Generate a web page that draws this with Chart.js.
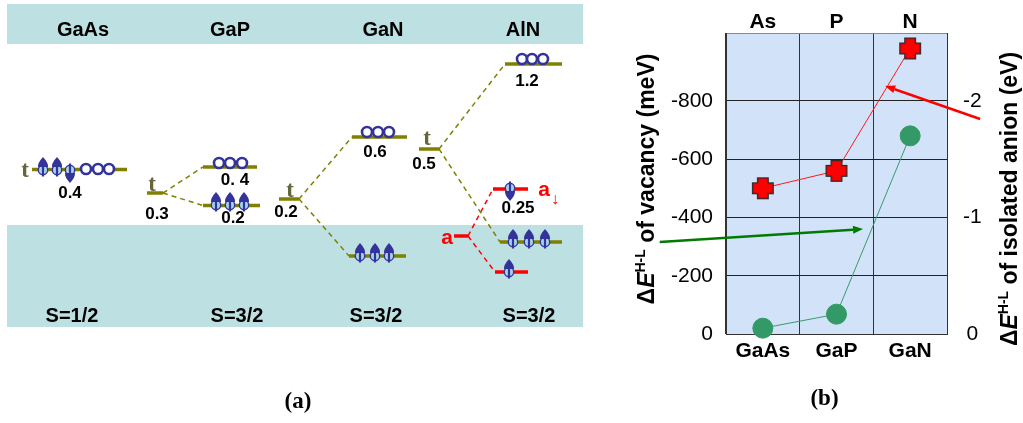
<!DOCTYPE html>
<html lang="en">
<head>
<meta charset="UTF-8">
<title>Vacancy levels</title>
<script src="https://cdn.jsdelivr.net/npm/chart.js"></script>
<style>
  body { margin: 0; background: #fff; }
  .panel { position: absolute; top: 0; height: 423px; }
  #panelA { left: 0; width: 620px; }
  #panelB { left: 620px; width: 403px; }
</style>
</head>
<body>
<div id="panelA" class="panel"><canvas id="chartA"></canvas></div>
<div id="panelB" class="panel"><canvas id="chartB"></canvas></div>

<script>
// ---------- panel (a): level scheme, diagram units (y grows downwards) ----------
const compounds = ['GaAs', 'GaP', 'GaN', 'AlN'];
const compoundX = [83, 230, 383, 523];
const spinTotal = ['S=1/2', 'S=3/2', 'S=3/2', 'S=3/2'];
const spinTotalX = [72, 237, 376, 529];
const bands = [[4, 44], [225, 327]];
const bandSpan = [7, 583];
// t levels: [from, to, height]
const tLevels = [[32, 127, 169.5], [147, 163, 193], [203, 257, 167], [203, 260, 205.5], [279, 299, 199],
                 [352, 407, 137], [349, 406, 256], [419, 439, 149], [505, 562, 64], [500, 562, 242]];
const aLevels = [[454, 468, 236], [493, 528, 189], [495, 528, 272]];
// dashed links: [x1, y1, x2, y2]
const tLinks = [[163, 193, 203, 167], [163, 193, 203, 205.5], [299, 199, 352, 137],
                [299, 199, 349, 256], [439, 149, 505, 64], [439, 149, 500, 242]];
const aLinks = [[468, 236, 493, 189], [468, 236, 495, 272]];
const spinUp = [[43, 170], [57, 170], [216, 205], [230, 205], [244, 205], [360, 256], [375, 256],
                [389, 256], [513, 242], [529, 242], [545, 242], [509, 272]];
const spinDown = [[70, 170], [510, 188]];
const holes = [[86, 169], [98, 169], [109, 169], [219, 163], [230, 163], [242, 163],
               [367, 132], [378, 132], [389, 132], [522, 59], [532, 59], [543, 59]];
const splitLabels = ['0.4', '0.3', '0. 4', '0.2', '0.2', '0.6', '0.5', '1.2', '0.25'];
const splitLabelAt = [[70, 193], [157, 214], [235, 180], [233, 218], [286, 212], [375, 152], [424, 164], [527, 81], [518, 208]];
const tMarks = [[25, 171], [152, 185], [290, 191], [427, 139]];

// ---------- panel (b) ----------
const crystals = ['GaAs', 'GaP', 'GaN'];
const anions = ['As', 'P', 'N'];
const vacancySplit = [-500, -560, -980];   // meV, left axis
const anionSplit = [-0.05, -0.17, -1.70];  // eV, right axis
const meVTicks = [0, -200, -400, -600, -800];
const eVTicks = [0, -1, -2];
// arrows: [category index, meV] start and end
const arrowRed = [[2.95, -738], [1.66, -851]];
const arrowGreen = [[-1.4, -316], [1.36, -360]];

const SANS = "'Liberation Sans', Arial, Helvetica, sans-serif";
const SERIF = "'Liberation Serif', 'Times New Roman', serif";
const OLIVE = '#808000';
const SPIN_BLUE = '#333399';
Chart.defaults.font.family = SANS;

function spinImage(up) {
    const c = document.createElement('canvas');
    c.width = 14; c.height = 32;
    const g = c.getContext('2d');
    const cx = 7, cy = 16, s = up ? -1 : 1;
    g.fillStyle = '#a3d2ea'; g.strokeStyle = SPIN_BLUE; g.lineWidth = 1.4;
    g.beginPath(); g.arc(cx, cy, 4.7, 0, Math.PI * 2); g.fill(); g.stroke();
    g.lineWidth = 2.2;
    g.beginPath(); g.moveTo(cx, cy - 6.5 * s); g.lineTo(cx, cy + 4 * s); g.stroke();
    g.fillStyle = SPIN_BLUE;
    g.beginPath();
    g.moveTo(cx, cy + 13 * s);
    g.quadraticCurveTo(cx + 5.5, cy + 7 * s, cx + 5, cy + 3 * s);
    g.lineTo(cx - 5, cy + 3 * s);
    g.quadraticCurveTo(cx - 5.5, cy + 7 * s, cx, cy + 13 * s);
    g.closePath(); g.fill();
    return c;
}
function holeImage() {
    const c = document.createElement('canvas');
    c.width = 16; c.height = 16;
    const g = c.getContext('2d');
    g.fillStyle = '#fff'; g.strokeStyle = SPIN_BLUE; g.lineWidth = 2.6;
    g.beginPath(); g.arc(8, 8, 5.0, 0, Math.PI * 2); g.fill(); g.stroke();
    return c;
}
function plusImage() {
    const c = document.createElement('canvas');
    c.width = 24; c.height = 24;
    const g = c.getContext('2d');
    const a = 5.3, L = 10.3, o = 12;
    g.beginPath();
    g.moveTo(o - a, o - L); g.lineTo(o + a, o - L); g.lineTo(o + a, o - a); g.lineTo(o + L, o - a);
    g.lineTo(o + L, o + a); g.lineTo(o + a, o + a); g.lineTo(o + a, o + L); g.lineTo(o - a, o + L);
    g.lineTo(o - a, o + a); g.lineTo(o - L, o + a); g.lineTo(o - L, o - a); g.lineTo(o - a, o - a);
    g.closePath();
    g.fillStyle = '#ff0000'; g.fill();
    g.strokeStyle = '#2a2a2a'; g.lineWidth = 1.3; g.stroke();
    return c;
}

const pts = list => list.map(p => ({x: p[0], y: p[1]}));
const segment = (p, color, width, dash) => ({
    data: [{x: p[0], y: p[1]}, {x: p[2], y: p[3]}],
    showLine: true, borderColor: color, borderWidth: width, borderDash: dash || [],
    pointRadius: 0, clip: false
});
const markers = (list, img) => ({
    data: pts(list), pointStyle: img, pointRadius: 6, showLine: false, clip: false
});

function label(ctx, text, x, y, font, color) {
    ctx.font = font;
    ctx.fillStyle = color || '#000';
    ctx.textAlign = 'center';
    ctx.textBaseline = 'middle';
    ctx.fillText(text, x, y);
}

const diagramDecor = {
    id: 'diagramDecor',
    beforeDatasetsDraw(chart) {
        const {ctx, scales: {x, y}} = chart;
        ctx.save();
        ctx.fillStyle = '#bde0e3';
        const x0 = x.getPixelForValue(bandSpan[0]), x1 = x.getPixelForValue(bandSpan[1]);
        bands.forEach(b => {
            const y0 = y.getPixelForValue(b[0]), y1 = y.getPixelForValue(b[1]);
            ctx.fillRect(x0, y0, x1 - x0, y1 - y0);
        });
        ctx.restore();
    },
    afterDatasetsDraw(chart) {
        const {ctx, scales: {x, y}} = chart;
        ctx.save();
        compounds.forEach((c, i) => label(ctx, c, x.getPixelForValue(compoundX[i]), y.getPixelForValue(30), 'bold 20px ' + SANS));
        spinTotal.forEach((s, i) => label(ctx, s, x.getPixelForValue(spinTotalX[i]), y.getPixelForValue(316), 'bold 20px ' + SANS));
        splitLabels.forEach((s, i) => label(ctx, s, x.getPixelForValue(splitLabelAt[i][0]), y.getPixelForValue(splitLabelAt[i][1]), 'bold 17px ' + SANS));
        tMarks.forEach(p => label(ctx, 't', x.getPixelForValue(p[0]), y.getPixelForValue(p[1]), 'bold 23px ' + SERIF, '#66663d'));
        label(ctx, 'a', x.getPixelForValue(447), y.getPixelForValue(238), 'bold 21px ' + SANS, '#ff0000');
        label(ctx, 'a', x.getPixelForValue(544), y.getPixelForValue(190), 'bold 21px ' + SANS, '#ff0000');
        label(ctx, '\u2193', x.getPixelForValue(555), y.getPixelForValue(200), 'bold 16px ' + SANS, '#ff0000');
        label(ctx, '(a)', x.getPixelForValue(298), y.getPixelForValue(402), 'bold 23px ' + SERIF);
        ctx.restore();
    }
};

new Chart(document.getElementById('chartA'), {
    type: 'scatter',
    data: {
        datasets: [
            markers(spinUp, spinImage(true)),
            markers(spinDown, spinImage(false)),
            markers(holes, holeImage()),
            ...tLevels.map(l => segment([l[0], l[2], l[1], l[2]], OLIVE, 3.5)),
            ...aLevels.map(l => segment([l[0], l[2], l[1], l[2]], '#ff0000', 3.5)),
            ...tLinks.map(l => segment(l, OLIVE, 1.5, [5, 4])),
            ...aLinks.map(l => segment(l, '#ff0000', 1.5, [5, 4]))
        ]
    },
    options: {
        responsive: true,
        maintainAspectRatio: false,
        animation: false,
        events: [],
        layout: {padding: 0, autoPadding: false},
        plugins: {legend: {display: false}, tooltip: {enabled: false}},
        scales: {
            x: {type: 'linear', min: 0, max: 620, display: false},
            y: {type: 'linear', min: 0, max: 423, reverse: true, display: false}
        }
    },
    plugins: [diagramDecor]
});

// ---------- panel (b) chart ----------
function drawRotated(ctx, cx, cy, parts) {
    ctx.save();
    ctx.translate(cx, cy);
    ctx.rotate(-Math.PI / 2);
    ctx.textAlign = 'left';
    ctx.textBaseline = 'alphabetic';
    ctx.fillStyle = '#000';
    let total = 0;
    parts.forEach(p => { ctx.font = p.font; p.w = ctx.measureText(p.text).width; total += p.w; });
    let px = -total / 2;
    parts.forEach(p => { ctx.font = p.font; ctx.fillText(p.text, px, p.rise || 0); px += p.w; });
    ctx.restore();
}
function titleParts(rest) {
    return [
        {text: '\u0394', font: 'bold 23px ' + SANS},
        {text: 'E', font: 'italic bold 23px ' + SANS},
        {text: 'H-L', font: 'bold 14px ' + SANS, rise: -9},
        {text: rest, font: 'bold 23px ' + SANS}
    ];
}
function drawArrow(ctx, xs, ys, arrow, color) {
    const x0 = xs.getPixelForValue(arrow[0][0]), y0 = ys.getPixelForValue(arrow[0][1]);
    const x1 = xs.getPixelForValue(arrow[1][0]), y1 = ys.getPixelForValue(arrow[1][1]);
    const ang = Math.atan2(y1 - y0, x1 - x0), head = 10, half = 4;
    ctx.save();
    ctx.strokeStyle = color; ctx.fillStyle = color; ctx.lineWidth = 2.5;
    ctx.beginPath(); ctx.moveTo(x0, y0);
    ctx.lineTo(x1 - head * Math.cos(ang), y1 - head * Math.sin(ang)); ctx.stroke();
    ctx.beginPath(); ctx.moveTo(x1, y1);
    ctx.lineTo(x1 - head * Math.cos(ang) + half * Math.sin(ang), y1 - head * Math.sin(ang) - half * Math.cos(ang));
    ctx.lineTo(x1 - head * Math.cos(ang) - half * Math.sin(ang), y1 - head * Math.sin(ang) + half * Math.cos(ang));
    ctx.closePath(); ctx.fill();
    ctx.restore();
}

const plotDecor = {
    id: 'plotDecor',
    beforeDraw(chart) {
        const {ctx, chartArea: a} = chart;
        ctx.save();
        ctx.fillStyle = '#d2e3f9';
        ctx.fillRect(a.left, a.top, a.right - a.left, a.bottom - a.top);
        ctx.restore();
    },
    afterDraw(chart) {
        const {ctx, chartArea: a, scales} = chart;
        drawRotated(ctx, a.left - 72, 179, titleParts(' of vacancy (meV)'));
        drawRotated(ctx, a.right + 70, 199, titleParts(' of isolated anion (eV)'));
        drawArrow(ctx, scales.x, scales.y, arrowRed, '#ff0000');
        drawArrow(ctx, scales.x, scales.y, arrowGreen, '#007a00');
        ctx.save();
        label(ctx, '(b)', (a.left + a.right) / 2 - 12, 399, 'bold 23px ' + SERIF);
        ctx.restore();
    }
};

new Chart(document.getElementById('chartB'), {
    type: 'line',
    data: {
        labels: crystals,
        datasets: [
            {
                label: 'vacancy', data: vacancySplit, yAxisID: 'y',
                borderColor: '#ff1a1a', borderWidth: 1, tension: 0,
                pointStyle: plusImage(), pointRadius: 10, clip: false
            },
            {
                label: 'anion', data: anionSplit, yAxisID: 'y2',
                borderColor: '#3a9a6c', borderWidth: 1, tension: 0,
                pointStyle: 'circle', pointRadius: 10,
                pointBackgroundColor: '#339966', pointBorderColor: '#339966', clip: false
            }
        ]
    },
    options: {
        responsive: true,
        maintainAspectRatio: false,
        animation: false,
        events: [],
        layout: {padding: 0, autoPadding: false},
        plugins: {legend: {display: false}, tooltip: {enabled: false}},
        scales: {
            x: {
                type: 'category', position: 'bottom', offset: true,
                grid: {offset: true, color: '#333', lineWidth: 1, drawTicks: false},
                border: {color: '#333'},
                ticks: {color: '#000', font: {size: 21, weight: 'bold'}, padding: 5},
                afterFit: s => { s.height = 89; }
            },
            x2: {
                type: 'category', position: 'top', labels: anions, offset: true,
                grid: {display: false, drawTicks: false},
                border: {color: '#888'},
                ticks: {color: '#000', font: {size: 21, weight: 'bold'}, padding: -2},
                afterFit: s => { s.height = 33; }
            },
            y: {
                type: 'linear', position: 'left', min: -1033, max: 0, reverse: true,
                afterBuildTicks: s => { s.ticks = meVTicks.map(v => ({value: v})); },
                grid: {color: '#222', lineWidth: 1, drawTicks: false},
                border: {color: '#333'},
                ticks: {color: '#000', font: {size: 21}, padding: 13, callback: v => String(v)},
                afterFit: s => { s.width = 106; }
            },
            y2: {
                type: 'linear', position: 'right', min: -2.5825, max: 0, reverse: true,
                afterBuildTicks: s => { s.ticks = eVTicks.map(v => ({value: v})); },
                grid: {display: false, drawTicks: false},
                border: {color: '#333'},
                ticks: {color: '#000', font: {size: 21}, padding: 16, crossAlign: 'center', callback: v => String(v)},
                afterFit: s => { s.width = 76; }
            }
        }
    },
    plugins: [plotDecor]
});
</script>
</body>
</html>
